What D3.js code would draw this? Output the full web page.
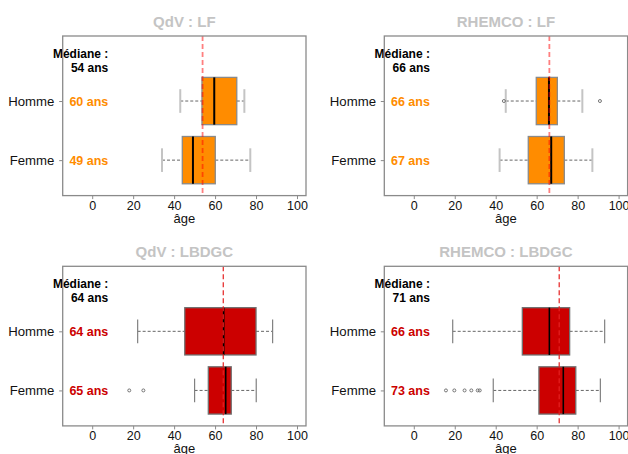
<!DOCTYPE html>
<html><head><meta charset="utf-8">
<script src="https://cdn.jsdelivr.net/npm/d3@7"></script>
<style>body{margin:0;background:#fff}svg{display:block;font-family:"Liberation Sans",Arial,sans-serif}</style>
</head><body><svg id="c" width="628" height="454"></svg>
<script>
// ---- data ----
const titles = ["QdV : LF", "RHEMCO : LF", "QdV : LBDGC", "RHEMCO : LBDGC"];
const groups = ["Homme", "Femme"];
const overallMedian = [53.9, 66.2, 64.0, 71.0];
const overallMedianLabel = [54, 66, 64, 71];
// [low whisker, Q1, median, Q3, high whisker] for Homme, Femme
const statsHomme = [
  [43.0, 53.6, 59.6, 70.6, 74.3],
  [44.9, 59.8, 66.0, 70.1, 82.3],
  [22.2, 45.2, 64.2, 80.0, 88.1],
  [19.0, 53.0, 66.2, 76.1, 93.2]
];
const statsFemme = [
  [34.1, 44.0, 49.2, 60.1, 77.2],
  [41.9, 55.9, 67.1, 73.5, 87.2],
  [50.0, 56.7, 65.2, 67.9, 80.1],
  [38.8, 61.1, 73.0, 79.1, 91.1]
];
const outliersHomme = [[], [44.0, 90.9], [], []];
const outliersFemme = [[], [], [18.1, 25.0], [15.7, 19.8, 24.8, 28.1, 31.2, 32.2]];
const groupMedianLabel = [[60, 49], [66, 67], [64, 65], [66, 73]];
const xTicks = [0, 20, 40, 60, 80, 100];
const xDomain = [-14.4, 104.4];
const fills = ["#FF8C00", "#FF8C00", "#CC0000", "#CC0000"];

// ---- layout ----
const svg = d3.select("#c");
const panelX = [62.7, 384.3, 62.7, 384.3];
const panelY = [36, 36, 266.3, 266.3];
const pw = 243.3, ph = 159.6;

titles.forEach((t, i) => {
  const top = i < 2;
  const x = d3.scaleLinear().domain(xDomain).range([panelX[i], panelX[i] + pw]);
  const y = d3.scaleLinear().domain([0.4, 3.1]).range([panelY[i] + ph, panelY[i]]);
  const g = svg.append("g");
  const frame = "#8a8a8a";

  // title
  g.append("text").attr("x", panelX[i] + pw / 2).attr("y", panelY[i] - 9.5)
    .attr("text-anchor", "middle").attr("font-weight", "bold").attr("font-size", 15)
    .attr("fill", "#c4c4c4").text(t);

  // x axis
  const ax = g.append("g").attr("transform", `translate(0,${panelY[i] + ph})`)
    .call(d3.axisBottom(x).tickValues(xTicks).tickSize(3.5).tickPadding(2));
  ax.select(".domain").remove();
  ax.selectAll(".tick line").attr("stroke", frame);
  ax.selectAll(".tick text").attr("font-size", 12.5).attr("fill", "#111")
    .attr("font-family", '"Liberation Sans",Arial,sans-serif');
  g.append("text").attr("x", panelX[i] + pw / 2).attr("y", panelY[i] + ph + 27.2)
    .attr("text-anchor", "middle").attr("font-size", 13).attr("fill", "#111").text("âge");

  // y axis
  const ay = g.append("g").attr("transform", `translate(${panelX[i]},0)`)
    .call(d3.axisLeft(y).tickValues([2, 1]).tickFormat((d) => d === 2 ? groups[0] : groups[1])
      .tickSize(3.5).tickPadding(4.8));
  ay.select(".domain").remove();
  ay.selectAll(".tick line").attr("stroke", frame);
  ay.selectAll(".tick text").attr("font-size", 13.2).attr("fill", "#111")
    .attr("font-family", '"Liberation Sans",Arial,sans-serif');

  // boxes
  const data = [
    { pos: 2, s: statsHomme[i], out: outliersHomme[i], lab: groupMedianLabel[i][0] },
    { pos: 1, s: statsFemme[i], out: outliersFemme[i], lab: groupMedianLabel[i][1] }
  ];
  const bh = 0.4, sh = 0.2;
  data.forEach(d => {
    const [lo, q1, md, q3, hi] = d.s;
    const cy = y(d.pos);
    // whiskers
    g.append("line").attr("x1", x(lo)).attr("x2", x(q1)).attr("y1", cy).attr("y2", cy)
      .attr("stroke", "#666").attr("stroke-dasharray", "3,2");
    g.append("line").attr("x1", x(q3)).attr("x2", x(hi)).attr("y1", cy).attr("y2", cy)
      .attr("stroke", "#666").attr("stroke-dasharray", "3,2");
    [lo, hi].forEach(v => g.append("line").attr("x1", x(v)).attr("x2", x(v))
      .attr("y1", y(d.pos + sh)).attr("y2", y(d.pos - sh))
      .attr("stroke", top ? "#c4c4c4" : "#808080").attr("stroke-width", top ? 2 : 1.2));
    // box
    g.append("rect").attr("x", x(q1)).attr("y", y(d.pos + bh))
      .attr("width", x(q3) - x(q1)).attr("height", y(d.pos - bh) - y(d.pos + bh))
      .attr("fill", fills[i]).attr("stroke", top ? "#8a8a8a" : "#707070").attr("stroke-width", 1.3);
    g.append("line").attr("x1", x(md)).attr("x2", x(md))
      .attr("y1", y(d.pos + bh)).attr("y2", y(d.pos - bh))
      .attr("stroke", "#000").attr("stroke-width", top ? 2 : 1.6);
    d.out.forEach(v => g.append("circle").attr("cx", x(v)).attr("cy", cy).attr("r", 1.5)
      .attr("fill", "none").attr("stroke", "#666").attr("stroke-width", 0.9));
    // median label
    g.append("text").attr("x", panelX[i] + 45.6).attr("y", cy + 4.6)
      .attr("text-anchor", "end").attr("font-weight", "bold").attr("font-size", 12.5)
      .attr("fill", fills[i]).text(d.lab + " ans");
  });

  // overall median line
  g.append("line").attr("x1", x(overallMedian[i])).attr("x2", x(overallMedian[i]))
    .attr("y1", panelY[i]).attr("y2", panelY[i] + ph)
    .attr("stroke", top ? "rgba(255,0,0,0.5)" : "#e52020")
    .attr("stroke-width", top ? 1.8 : 1.2).attr("stroke-dasharray", "5,3");

  g.append("text").attr("x", panelX[i] + 45.6).attr("y", panelY[i] + 21.5)
    .attr("text-anchor", "end").attr("font-weight", "bold").attr("font-size", 12)
    .attr("fill", "#000").text("Médiane :");
  g.append("text").attr("x", panelX[i] + 45.6).attr("y", panelY[i] + 35.7)
    .attr("text-anchor", "end").attr("font-weight", "bold").attr("font-size", 12)
    .attr("fill", "#000").text(overallMedianLabel[i] + " ans");

  // frame
  g.append("rect").attr("x", panelX[i]).attr("y", panelY[i]).attr("width", pw).attr("height", ph)
    .attr("fill", "none").attr("stroke", frame).attr("stroke-width", 1.3);
});
</script></body></html>
